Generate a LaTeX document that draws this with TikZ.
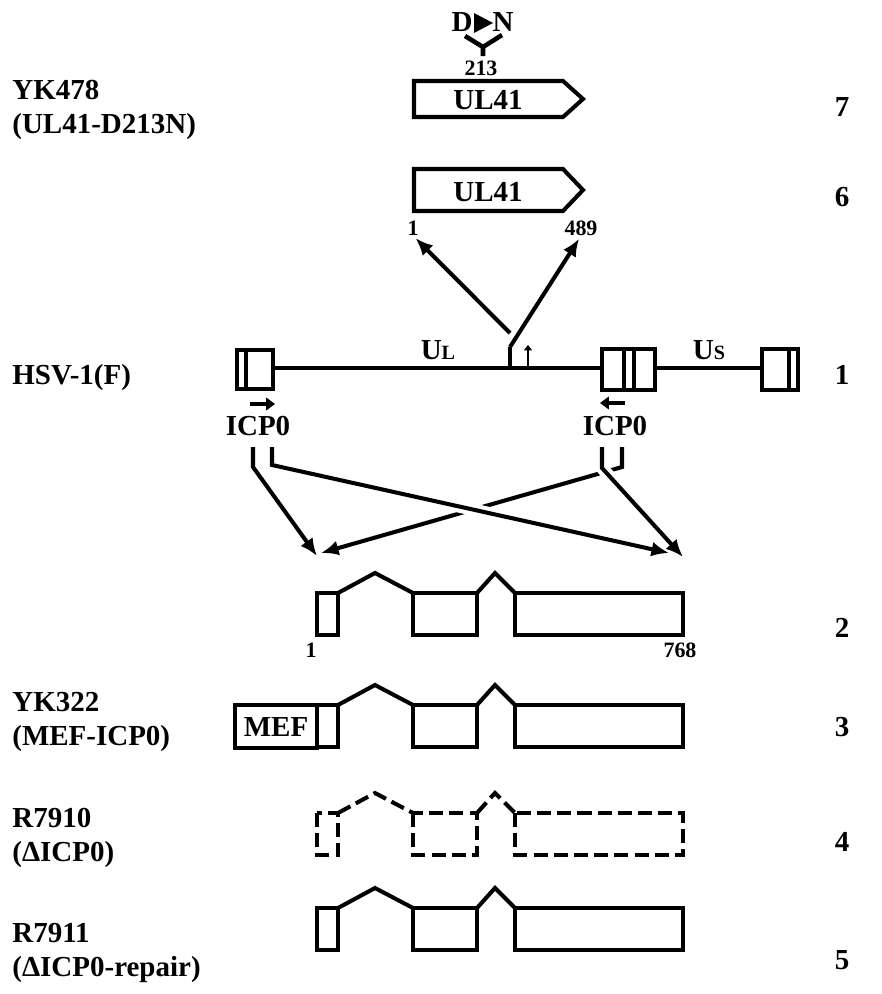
\documentclass[tikz,border=0pt]{standalone}
\usepackage{fontspec}
\setmainfont{Liberation Serif}
\usetikzlibrary{arrows.meta}

\begin{document}
\begin{tikzpicture}[x=0.02cm, y=-0.02cm,
    lbl/.style={anchor=west, inner sep=0pt, align=left, font=\bfseries\fontsize{16.5}{19}\selectfont},
    num/.style={inner sep=0pt, font=\bfseries\fontsize{16.5}{19}\selectfont},
    posnum/.style={inner sep=0pt, font=\bfseries\fontsize{12.5}{14}\selectfont},
    gene/.style={line width=2.3pt},
    gap/.style={dash pattern=on 8pt off 3.5pt},
    arr/.style={gene, -{Latex[length=10pt,width=8.5pt]}},
    dir/.style={line width=2.6pt, -{Triangle[length=5pt,width=7pt]}},
    over/.style={preaction={draw=white, -, line width=7pt, shorten >=20pt}}
  ]
  \useasboundingbox (0,0) rectangle (882,994);

  % strain names and row numbers
  \node[lbl] (yk478) at (12,110) {YK478\\(UL41-D213N)};
  \node[lbl] (hsv) at (12,378) {HSV-1(F)};
  \node[lbl] (yk322) at (12,722) {YK322\\(MEF-ICP0)};
  \node[lbl] (r7910) at (12,838) {R7910\\(ΔICP0)};
  \node[lbl] (r7911) at (12,953) {R7911\\(ΔICP0-repair)};
  \node[num] (r7) at (842,107) {7};
  \node[num] (r6) at (842,197) {6};
  \node[num] (r1) at (842,375) {1};
  \node[num] (r2) at (842,628) {2};
  \node[num] (r3) at (842,727) {3};
  \node[num] (r4) at (842,842) {4};
  \node[num] (r5) at (842,960) {5};

  % UL41 with the point mutation
  \node[num] (d) at (462,22) {D};
  \node[num] (n) at (503,22) {N};
  \fill (474,13) -- (493,23) -- (474,33) -- cycle;
  \draw[line width=2.6pt] (465,36) -- (483,47) -- (502,35) (483,47) -- (483,56);
  \node[posnum] (p213) at (481,68) {213};
  \draw[gene] (414,81) -- (563,81) -- (583,99) -- (563,117) -- (414,117) -- cycle;
  \node[num] (ul7) at (488,100) {UL41};

  % UL41 ORF
  \draw[gene] (414,169) -- (563,169) -- (583,190) -- (563,211) -- (414,211) -- cycle;
  \node[num] (ul6) at (488,192) {UL41};
  \node[posnum] (n1) at (413,228) {1};
  \node[posnum] (n489) at (581,228) {489};

  % HSV-1 genome
  \draw[gene] (273,368) -- (602,368) (655,368) -- (762,368);
  \draw[gene] (237,350) rectangle (273,389) (246,350) -- (246,389);
  \draw[gene] (602,349) rectangle (655,390) (624,349) -- (624,390) (634,349) -- (634,390);
  \draw[gene] (762,349) rectangle (798,390) (789,349) -- (789,390);
  \node[num] (ul) at (438,350) {U{\fontsize{11.5}{11.5}\selectfont L}};
  \node[num] (us) at (709,350) {U{\fontsize{11.5}{11.5}\selectfont S}};
  \coordinate (kink) at (510,347);
  \coordinate (split) at (510,333);
  \draw[gene] (510,368) -- (kink);
  \draw[arr, shorten >=2pt] (kink) -- (n489.south);
  \draw[arr, shorten >=2pt] (split) -- (n1.south);
  \draw[line width=1.6pt, -{Triangle[length=3pt,width=4.5pt]}] (528,368) -- (528,345);

  % ICP0 copies
  \draw[dir] (250,404) -- (275,404);
  \draw[dir] (625,403) -- (600,403);
  \node[num] (icpL) at (258,426) {ICP0};
  \node[num] (icpR) at (615,426) {ICP0};
  \coordinate (la) at (253,447);
  \coordinate (lb) at (272,447);
  \coordinate (ra) at (602,447);
  \coordinate (rb) at (622,447);
  \coordinate (ex1a) at (317,556);
  \coordinate (ex1b) at (321,553);
  \coordinate (ex3a) at (669,553);
  \coordinate (ex3b) at (683,557);
  \draw[arr] (rb) -- ++(0,20) -- (ex1b);
  \draw[arr, over] (ra) -- ++(0,21) -- (ex3b);
  \draw[arr] (la) -- ++(0,20) -- (ex1a);
  \draw[arr, over] (lb) -- ++(0,18) -- (ex3a);

  % ICP0 gene structures
  \foreach \yt/\ls in {593/solid, 705/solid, 813/gap, 908/solid}{
    \draw[gene, \ls] (317,\yt) rectangle (338,\yt+42);
    \draw[gene, \ls] (338,\yt) -- (375,\yt-20) -- (413,\yt);
    \draw[gene, \ls] (413,\yt) rectangle (477,\yt+42);
    \draw[gene, \ls] (477,\yt) -- (495,\yt-20) -- (515,\yt);
    \draw[gene, \ls] (515,\yt) rectangle (683,\yt+42);
  }
  \node[posnum] (p1) at (311,650) {1};
  \node[posnum] (p768) at (680,650) {768};
  \node[num, draw, gene, minimum width=1.64cm, minimum height=0.86cm] (mef) at (276,726.5) {MEF};
\end{tikzpicture}
\end{document}
